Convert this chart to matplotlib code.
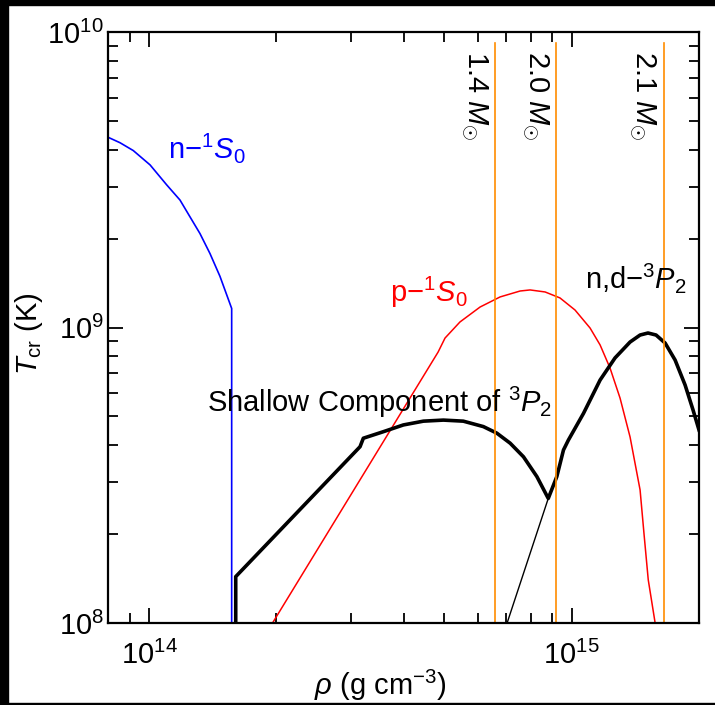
import matplotlib
matplotlib.use("Agg")
import matplotlib.pyplot as plt
from matplotlib.ticker import LogLocator, NullFormatter
from matplotlib.patches import Rectangle

plt.rcParams['font.family'] = ['Liberation Sans', 'DejaVu Sans']
plt.rcParams['mathtext.fontset'] = 'custom'
plt.rcParams['mathtext.rm'] = 'Liberation Sans'
plt.rcParams['mathtext.it'] = 'Liberation Sans:italic'
plt.rcParams['mathtext.bf'] = 'Liberation Sans:bold'

# n-1S0 (blue)
n1s0_rho = [8.04e13, 8.54e13, 9.18e13, 1.006e14, 1.101e14, 1.184e14, 1.25e14,
            1.32e14, 1.394e14, 1.472e14, 1.569e14, 1.569e14]
n1s0_T = [4.39e9, 4.22e9, 3.97e9, 3.55e9, 3.04e9, 2.70e9, 2.37e9,
          2.08e9, 1.78e9, 1.49e9, 1.16e9, 0.9e8]

# p-1S0 (red)
p1s0_rho = [1.96e14, 4.83e14, 5.015e14, 5.44e14, 6.07e14, 6.77e14, 7.55e14, 7.97e14,
            8.65e14, 9.38e14, 1.018e15, 1.105e15, 1.167e15, 1.232e15, 1.301e15,
            1.374e15, 1.451e15, 1.483e15, 1.517e15, 1.575e15]
p1s0_T = [1.0e8, 8.26e8, 9.21e8, 1.044e9, 1.173e9, 1.269e9, 1.329e9, 1.34e9,
          1.319e9, 1.259e9, 1.146e9, 9.96e8, 8.73e8, 7.29e8, 5.77e8,
          4.26e8, 2.82e8, 1.99e8, 1.40e8, 1.0e8]

# shallow + deep 3P2 envelope (thick black)
p3_rho = [1.604e14, 1.604e14, 3.157e14, 3.214e14, 3.584e14, 3.997e14, 4.457e14,
          4.97e14, 5.54e14, 6.18e14, 6.65e14, 7.15e14, 7.69e14, 8.27e14, 8.80e14,
          9.22e14, 9.56e14, 9.82e14, 1.066e15, 1.167e15, 1.266e15, 1.374e15,
          1.451e15, 1.515e15, 1.583e15, 1.663e15, 1.756e15, 1.854e15, 1.936e15, 2.0e15]
p3_T = [0.9e8, 1.435e8, 3.95e8, 4.22e8, 4.44e8, 4.68e8, 4.82e8,
        4.86e8, 4.82e8, 4.62e8, 4.39e8, 4.06e8, 3.65e8, 3.13e8, 2.64e8,
        3.13e8, 3.85e8, 4.16e8, 5.12e8, 6.64e8, 7.89e8, 8.93e8,
        9.43e8, 9.58e8, 9.43e8, 8.86e8, 7.76e8, 6.39e8, 5.26e8, 4.50e8]

# deep 3P2 low-density tail (thin black)
deep_rho = [6.95e14, 8.80e14]
deep_T = [0.95e8, 2.64e8]

# stellar central densities
mass_rho = [6.59e14, 9.18e14, 1.65e15]
mass_labels = [r'1.4 $M_{\odot}$', r'2.0 $M_{\odot}$', r'2.1 $M_{\odot}$']

fig = plt.figure(figsize=(7.15, 7.05), dpi=100)
ax = fig.add_axes([108 / 715, 1 - 623 / 705, 591 / 715, 591 / 705])

ax.plot(n1s0_rho, n1s0_T, color='blue', lw=1.2)
ax.plot(p1s0_rho, p1s0_T, color='red', lw=1.1)
ax.plot(deep_rho, deep_T, color='black', lw=1.0)
ax.plot(p3_rho, p3_T, color='black', lw=2.6)
for r, lab in zip(mass_rho, mass_labels):
    ax.plot([r, r], [1e8, 9.2e9], color='#ff8c00', lw=1.2)
    ax.text(r / 1.03, 8.6e9, lab, rotation=270, ha='right', va='top', fontsize=21)

ax.text(1.11e14, 3.75e9, r'n$-^1S_0$', color='blue', fontsize=21, va='baseline')
ax.text(3.72e14, 1.22e9, r'p$-^1S_0$', color='red', fontsize=21, va='baseline')
ax.text(1.076e15, 1.36e9, r'n,d$-^3P_2$', color='black', fontsize=21, va='baseline')
ax.text(1.372e14, 5.18e8, r'Shallow Component of $^3P_2$', color='black',
        fontsize=21, va='baseline')

ax.set_xscale('log')
ax.set_yscale('log')
ax.set_xlim(8.0e13, 2.0e15)
ax.set_ylim(1e8, 1e10)
ax.xaxis.set_minor_formatter(NullFormatter())
ax.yaxis.set_minor_formatter(NullFormatter())
ax.yaxis.set_major_locator(LogLocator(base=10, numticks=5))
ax.tick_params(which='both', direction='in', top=True, right=True, width=1.3, labelsize=21)
ax.tick_params(which='major', length=11)
ax.tick_params(which='minor', length=7)
ax.tick_params(axis='x', which='major', pad=13)
ax.tick_params(axis='y', which='major', pad=3)
for s in ax.spines.values():
    s.set_linewidth(1.6)

ax.set_ylabel(r'$T_{\rm cr}$ (K)', fontsize=21)
ax.yaxis.set_label_coords(-0.107, 0.49)
ax.set_xlabel(r'$\rho$ (g cm$^{-3}$)', fontsize=21, va='top')
ax.xaxis.set_label_coords(0.46, -0.076)

# dark frame edges from the original screenshot
fig.patches.append(Rectangle((0, 0), 8 / 715, 1, transform=fig.transFigure, color='black'))
fig.patches.append(Rectangle((0, 1 - 5 / 705), 1, 5 / 705, transform=fig.transFigure, color='black'))
fig.patches.append(Rectangle((0, 0), 1, 2 / 705, transform=fig.transFigure, color='black'))

fig.savefig('out.png', dpi=100)
